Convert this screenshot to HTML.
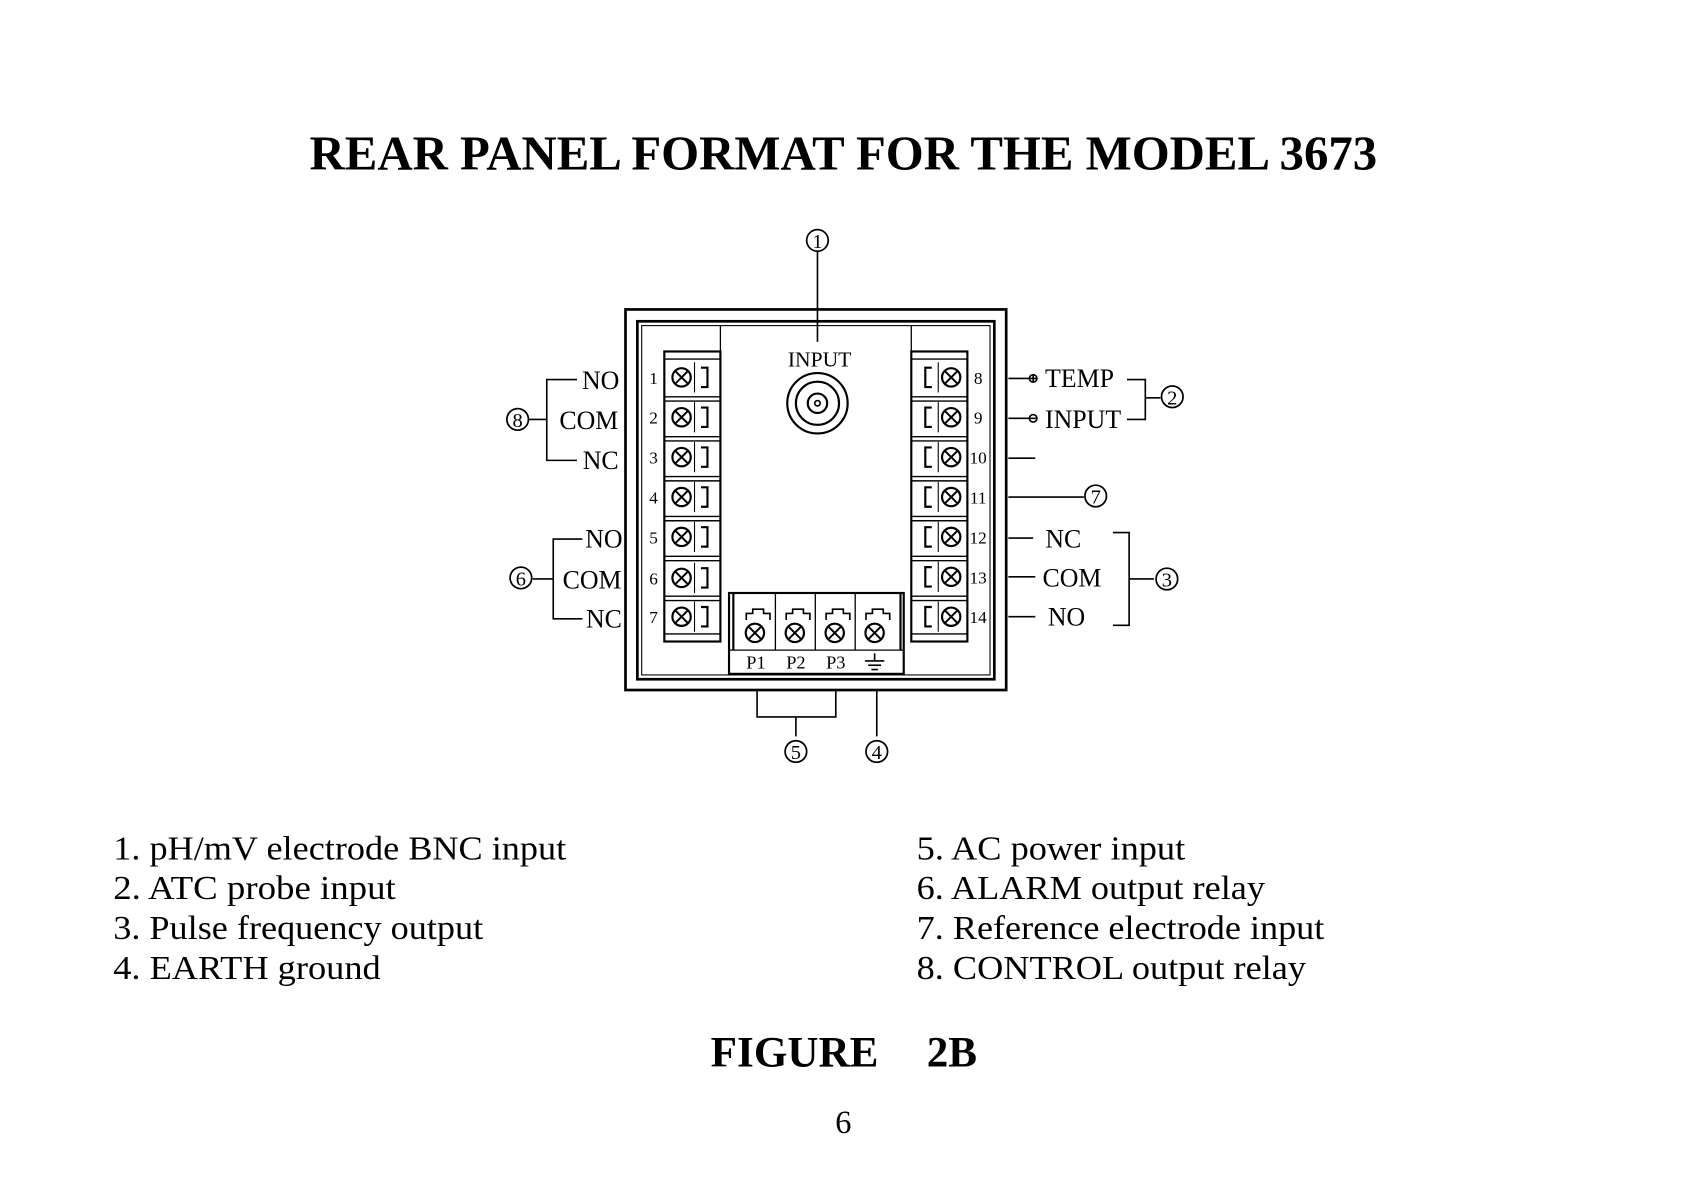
<!DOCTYPE html>
<html><head><meta charset="utf-8"><style>
html,body{margin:0;padding:0;background:#fff;}
svg{display:block}
text{font-family:"Liberation Serif",serif;fill:#000}
</style></head><body>
<svg width="1691" height="1200" viewBox="0 0 1568 1113" preserveAspectRatio="none" xmlns="http://www.w3.org/2000/svg">
<defs>
<g id="scr"><circle r="8.5" fill="#fff" stroke="#000" stroke-width="2"/><path d="M-6,-6L6,6M-6,6L6,-6" stroke="#000" stroke-width="1.8"/></g>
</defs>
<text x="287" y="157" font-size="45" font-weight="bold" textLength="990" lengthAdjust="spacingAndGlyphs">REAR PANEL FORMAT FOR THE MODEL 3673</text>

<g stroke="#000" fill="none">
<rect x="580" y="287" width="353" height="353" stroke-width="2.5"/>
<rect x="591" y="298" width="331" height="332" stroke-width="2.5"/>
<rect x="595" y="302" width="323" height="324" stroke-width="1"/>
<line x1="668" y1="302" x2="668" y2="550" stroke-width="1.2"/>
<line x1="845" y1="302" x2="845" y2="550" stroke-width="1.2"/>
<rect x="616" y="326" width="52" height="269" stroke-width="2"/>
<rect x="845" y="326" width="52" height="269" stroke-width="2"/>
<rect x="676" y="550" width="162" height="75" stroke-width="2"/>
<line x1="676" y1="603" x2="838" y2="603" stroke-width="1.2"/>
<line x1="719" y1="550" x2="719" y2="603" stroke-width="1.2"/>
<line x1="756" y1="550" x2="756" y2="603" stroke-width="1.2"/>
<line x1="793" y1="550" x2="793" y2="603" stroke-width="1.2"/>
<line x1="680" y1="550" x2="680" y2="603" stroke-width="2"/>
<line x1="835" y1="550" x2="835" y2="603" stroke-width="2"/>
<circle cx="758" cy="374" r="28" stroke-width="2"/>
<circle cx="758" cy="374" r="20" stroke-width="2"/>
<circle cx="758" cy="374" r="9" stroke-width="2"/>
<circle cx="758" cy="374" r="2.5" stroke-width="1.5"/>
<line x1="758" y1="233" x2="758" y2="317" stroke-width="1.5"/>
</g>

<g stroke="#000" fill="none" stroke-width="1.3">
<line x1="616" y1="333" x2="668" y2="333"/>
<line x1="616" y1="368" x2="668" y2="368"/><line x1="616" y1="372" x2="668" y2="372"/>
<line x1="616" y1="405" x2="668" y2="405"/><line x1="616" y1="409" x2="668" y2="409"/>
<line x1="616" y1="442" x2="668" y2="442"/><line x1="616" y1="446" x2="668" y2="446"/>
<line x1="616" y1="479" x2="668" y2="479"/><line x1="616" y1="483" x2="668" y2="483"/>
<line x1="616" y1="516" x2="668" y2="516"/><line x1="616" y1="520" x2="668" y2="520"/>
<line x1="616" y1="553" x2="668" y2="553"/><line x1="616" y1="557" x2="668" y2="557"/>
<line x1="616" y1="588" x2="668" y2="588"/>
<line x1="845" y1="333" x2="897" y2="333"/>
<line x1="845" y1="368" x2="897" y2="368"/><line x1="845" y1="372" x2="897" y2="372"/>
<line x1="845" y1="405" x2="897" y2="405"/><line x1="845" y1="409" x2="897" y2="409"/>
<line x1="845" y1="442" x2="897" y2="442"/><line x1="845" y1="446" x2="897" y2="446"/>
<line x1="845" y1="479" x2="897" y2="479"/><line x1="845" y1="483" x2="897" y2="483"/>
<line x1="845" y1="516" x2="897" y2="516"/><line x1="845" y1="520" x2="897" y2="520"/>
<line x1="845" y1="553" x2="897" y2="553"/><line x1="845" y1="557" x2="897" y2="557"/>
<line x1="845" y1="588" x2="897" y2="588"/>
</g>
<g>
<g transform="translate(0,350)"><line x1="644" y1="-14" x2="644" y2="14" stroke="#000"/><path d="M650,-9h6v18h-6" fill="none" stroke="#000" stroke-width="2"/><use href="#scr" x="632"/></g>
<g transform="translate(0,387)"><line x1="644" y1="-14" x2="644" y2="14" stroke="#000"/><path d="M650,-9h6v18h-6" fill="none" stroke="#000" stroke-width="2"/><use href="#scr" x="632"/></g>
<g transform="translate(0,424)"><line x1="644" y1="-14" x2="644" y2="14" stroke="#000"/><path d="M650,-9h6v18h-6" fill="none" stroke="#000" stroke-width="2"/><use href="#scr" x="632"/></g>
<g transform="translate(0,461)"><line x1="644" y1="-14" x2="644" y2="14" stroke="#000"/><path d="M650,-9h6v18h-6" fill="none" stroke="#000" stroke-width="2"/><use href="#scr" x="632"/></g>
<g transform="translate(0,498)"><line x1="644" y1="-14" x2="644" y2="14" stroke="#000"/><path d="M650,-9h6v18h-6" fill="none" stroke="#000" stroke-width="2"/><use href="#scr" x="632"/></g>
<g transform="translate(0,536)"><line x1="644" y1="-14" x2="644" y2="14" stroke="#000"/><path d="M650,-9h6v18h-6" fill="none" stroke="#000" stroke-width="2"/><use href="#scr" x="632"/></g>
<g transform="translate(0,572)"><line x1="644" y1="-14" x2="644" y2="14" stroke="#000"/><path d="M650,-9h6v18h-6" fill="none" stroke="#000" stroke-width="2"/><use href="#scr" x="632"/></g>
</g>
<g>
<g transform="translate(0,350)"><line x1="870" y1="-14" x2="870" y2="14" stroke="#000"/><path d="M864,-9h-6v18h6" fill="none" stroke="#000" stroke-width="2"/><use href="#scr" x="882"/></g>
<g transform="translate(0,387)"><line x1="870" y1="-14" x2="870" y2="14" stroke="#000"/><path d="M864,-9h-6v18h6" fill="none" stroke="#000" stroke-width="2"/><use href="#scr" x="882"/></g>
<g transform="translate(0,424)"><line x1="870" y1="-14" x2="870" y2="14" stroke="#000"/><path d="M864,-9h-6v18h6" fill="none" stroke="#000" stroke-width="2"/><use href="#scr" x="882"/></g>
<g transform="translate(0,461)"><line x1="870" y1="-14" x2="870" y2="14" stroke="#000"/><path d="M864,-9h-6v18h6" fill="none" stroke="#000" stroke-width="2"/><use href="#scr" x="882"/></g>
<g transform="translate(0,498)"><line x1="870" y1="-14" x2="870" y2="14" stroke="#000"/><path d="M864,-9h-6v18h6" fill="none" stroke="#000" stroke-width="2"/><use href="#scr" x="882"/></g>
<g transform="translate(0,535)"><line x1="870" y1="-14" x2="870" y2="14" stroke="#000"/><path d="M864,-9h-6v18h6" fill="none" stroke="#000" stroke-width="2"/><use href="#scr" x="882"/></g>
<g transform="translate(0,572)"><line x1="870" y1="-14" x2="870" y2="14" stroke="#000"/><path d="M864,-9h-6v18h6" fill="none" stroke="#000" stroke-width="2"/><use href="#scr" x="882"/></g>
</g>
<g stroke="#000" fill="none" stroke-width="1.5">
<path d="M692,575v-6h6v-4h10v4h6v6"/><path d="M729,575v-6h6v-4h10v4h6v6"/><path d="M766,575v-6h6v-4h10v4h6v6"/><path d="M803,575v-6h6v-4h10v4h6v6"/>
</g>
<use href="#scr" x="700" y="587"/><use href="#scr" x="737" y="587"/><use href="#scr" x="774" y="587"/><use href="#scr" x="811" y="587"/>
<g font-size="17" text-anchor="middle">
<text x="701" y="620">P1</text><text x="738" y="620">P2</text><text x="775" y="620">P3</text>
</g>
<g stroke="#000" stroke-width="1.5"><line x1="811" y1="606" x2="811" y2="613"/><line x1="802" y1="613" x2="820" y2="613"/><line x1="805" y1="617" x2="817" y2="617"/><line x1="808" y1="621" x2="814" y2="621"/></g>

<text x="760" y="340" font-size="20" text-anchor="middle">INPUT</text>
<g font-size="16" text-anchor="middle">
<text x="606" y="356">1</text><text x="606" y="393">2</text><text x="606" y="430">3</text><text x="606" y="467">4</text><text x="606" y="504">5</text><text x="606" y="542">6</text><text x="606" y="578">7</text>
<text x="907" y="356">8</text><text x="907" y="393">9</text><text x="907" y="430">10</text><text x="907" y="467">11</text><text x="907" y="504">12</text><text x="907" y="541">13</text><text x="907" y="578">14</text>
</g>

<g font-size="24">
<text x="557" y="361" text-anchor="middle">NO</text>
<text x="546" y="398" text-anchor="middle">COM</text>
<text x="557" y="435" text-anchor="middle">NC</text>
<text x="560" y="508" text-anchor="middle">NO</text>
<text x="549" y="546" text-anchor="middle">COM</text>
<text x="560" y="582" text-anchor="middle">NC</text>
<text x="969" y="359">TEMP</text>
<text x="969" y="397">INPUT</text>
<text x="986" y="508" text-anchor="middle">NC</text>
<text x="994" y="544" text-anchor="middle">COM</text>
<text x="989" y="580" text-anchor="middle">NO</text>
</g>

<g stroke="#000" fill="none" stroke-width="1.5">
<path d="M535,352H507V427H535"/><line x1="490" y1="389" x2="507" y2="389"/>
<path d="M540,500H513V574H540"/><line x1="494" y1="537" x2="513" y2="537"/>
<line x1="935" y1="351" x2="955" y2="351"/><line x1="935" y1="388" x2="955" y2="388"/>
<path d="M1045,352H1062V389H1045"/><line x1="1062" y1="369" x2="1076" y2="369"/>
<line x1="935" y1="425" x2="960" y2="425"/>
<line x1="935" y1="461" x2="1005" y2="461"/>
<line x1="935" y1="499" x2="958" y2="499"/><line x1="935" y1="535" x2="960" y2="535"/><line x1="935" y1="572" x2="960" y2="572"/>
<path d="M1032,494H1047V580H1032"/><line x1="1047" y1="537" x2="1070" y2="537"/>
<path d="M702,640V665H775V640"/><line x1="738" y1="665" x2="738" y2="683"/>
<line x1="813" y1="640" x2="813" y2="683"/>
<circle cx="958" cy="351" r="3.5"/><line x1="955" y1="351" x2="961" y2="351"/><line x1="958" y1="348" x2="958" y2="354"/>
<circle cx="958" cy="388" r="3.5"/><line x1="955" y1="388" x2="961" y2="388"/>
</g>

<g stroke="#000" fill="#fff" stroke-width="1.6">
<circle cx="758" cy="223" r="10"/><circle cx="1087" cy="368" r="10"/><circle cx="1082" cy="537" r="10"/>
<circle cx="813" cy="697" r="10"/><circle cx="738" cy="697" r="10"/><circle cx="483" cy="536" r="10"/>
<circle cx="1016" cy="460" r="10"/><circle cx="480" cy="389" r="10"/>
</g>
<g font-size="19" text-anchor="middle">
<text x="758" y="230">1</text><text x="1087" y="375">2</text><text x="1082" y="544">3</text>
<text x="813" y="704">4</text><text x="738" y="704">5</text><text x="483" y="543">6</text>
<text x="1016" y="467">7</text><text x="480" y="396">8</text>
</g>

<g font-size="31" lengthAdjust="spacingAndGlyphs">
<text x="105" y="797" textLength="420" lengthAdjust="spacingAndGlyphs">1. pH/mV electrode BNC input</text>
<text x="105" y="834" textLength="262" lengthAdjust="spacingAndGlyphs">2. ATC probe input</text>
<text x="105" y="871" textLength="343" lengthAdjust="spacingAndGlyphs">3. Pulse frequency output</text>
<text x="105" y="908" textLength="248" lengthAdjust="spacingAndGlyphs">4. EARTH ground</text>
<text x="850" y="797" textLength="249" lengthAdjust="spacingAndGlyphs">5. AC power input</text>
<text x="850" y="834" textLength="323" lengthAdjust="spacingAndGlyphs">6. ALARM output relay</text>
<text x="850" y="871" textLength="378" lengthAdjust="spacingAndGlyphs">7. Reference electrode input</text>
<text x="850" y="908" textLength="361" lengthAdjust="spacingAndGlyphs">8. CONTROL output relay</text>
</g>
<text x="659" y="989" font-size="40" font-weight="bold">FIGURE</text>
<text x="906" y="989" font-size="40" font-weight="bold" text-anchor="end">2B</text>
<text x="782" y="1051" font-size="30" text-anchor="middle">6</text>
</svg>
</body></html>
